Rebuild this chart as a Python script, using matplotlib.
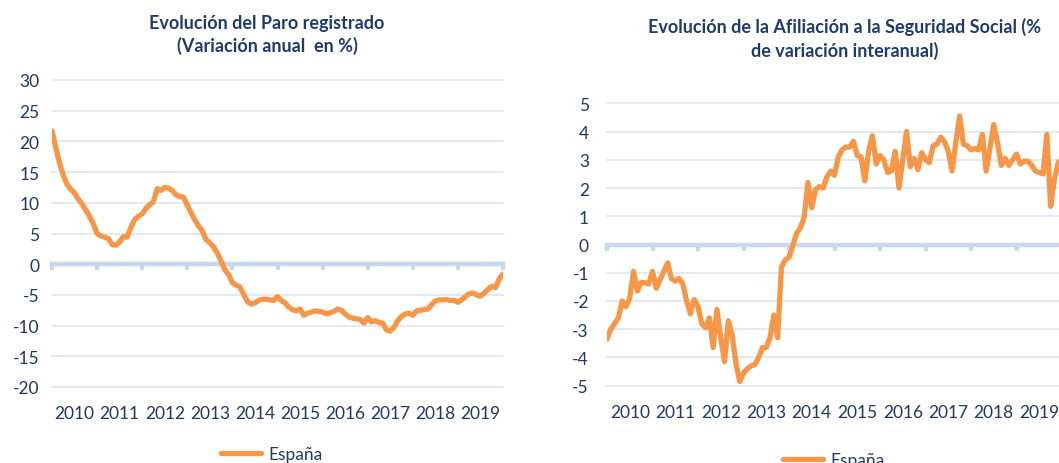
import matplotlib
matplotlib.use("Agg")
import matplotlib.pyplot as plt
from matplotlib.lines import Line2D

plt.rcParams['font.family'] = ['Lato', 'DejaVu Sans']
plt.rcParams['axes.unicode_minus'] = False

# ---------------- data ----------------
years = ['2010', '2011', '2012', '2013', '2014', '2015', '2016', '2017', '2018', '2019']

# Paro registrado, variación anual (%), monthly from Jan 2010
paro = [21.7, 19.0, 16.5, 14.5, 13.0, 12.2, 11.6, 10.6, 9.8, 8.8, 7.8, 6.6,
        5.0, 4.6, 4.4, 4.2, 3.2, 3.1, 3.6, 4.5, 4.4, 6.0, 7.3, 7.8,
        8.2, 9.1, 9.7, 10.2, 12.3, 12.0, 12.5, 12.4, 12.0, 11.3, 11.0, 10.9,
        9.6, 8.4, 7.2, 6.2, 5.4, 4.0, 3.5, 2.8, 1.8, 0.5, -0.9, -1.7,
        -3.0, -3.4, -3.7, -4.9, -6.1, -6.5, -6.3, -5.9, -5.7, -5.7, -5.8, -5.9,
        -5.3, -5.9, -6.3, -7.0, -7.4, -7.6, -7.3, -8.3, -8.0, -7.8, -7.6, -7.7,
        -7.8, -8.1, -7.9, -7.7, -7.3, -7.5, -8.1, -8.6, -8.8, -8.9, -9.0, -9.6,
        -8.7, -9.4, -9.2, -9.5, -9.6, -10.7, -10.9, -10.3, -9.2, -8.5, -8.1, -8.0,
        -8.3, -7.6, -7.5, -7.4, -7.3, -6.6, -6.0, -5.8, -5.8, -5.8, -5.9, -5.9,
        -6.2, -5.8, -5.3, -4.8, -4.7, -5.0, -5.2, -4.7, -4.1, -3.6, -3.8, -2.4,
        -1.6]

# Afiliación a la Seguridad Social, variación interanual (%), monthly from Jan 2010
afiliacion = [-3.35, -3.0, -2.8, -2.6, -2.0, -2.2, -1.9, -0.95, -1.65, -1.35, -1.35, -1.4,
              -0.95, -1.55, -1.25, -0.95, -0.65, -1.2, -1.3, -1.2, -1.4, -2.0, -2.45, -1.95,
              -2.2, -2.8, -2.95, -2.6, -3.65, -2.3, -3.3, -4.15, -2.7, -3.2, -4.2, -4.85,
              -4.55, -4.4, -4.3, -4.25, -4.0, -3.65, -3.65, -3.3, -2.5, -3.3, -0.8, -0.55,
              -0.45, -0.05, 0.4, 0.6, 0.95, 2.2, 1.3, 1.95, 2.05, 2.0, 2.4, 2.6,
              2.45, 3.1, 3.35, 3.45, 3.45, 3.65, 3.15, 3.1, 2.25, 3.3, 3.85, 2.85,
              3.15, 3.0, 2.55, 2.6, 3.3, 2.0, 3.0, 4.0, 2.75, 3.05, 2.65, 3.25,
              3.0, 2.9, 3.5, 3.55, 3.8, 3.65, 3.3, 2.6, 3.6, 4.55, 3.55, 3.5,
              3.35, 3.4, 3.35, 3.9, 2.6, 3.4, 4.25, 3.6, 2.8, 3.05, 2.8, 3.0,
              3.2, 2.85, 2.95, 2.95, 2.8, 2.6, 2.55, 2.5, 3.9, 1.35, 2.3, 2.9,
              3.0]

paro_yticks = [-20, -15, -10, -5, 0, 5, 10, 15, 20, 25, 30]
afil_yticks = [-5, -4, -3, -2, -1, 0, 1, 2, 3, 4, 5]

title_left = "Evolución del Paro registrado\n(Variación anual  en %)"
title_right = "Evolución de la Afiliación a la Seguridad Social (%\nde variación interanual)"
legend_label = "España"

# ---------------- style ----------------
ORANGE = '#f79646'
NAVY = '#1f3864'
TITLE = '#1f3b6e'
GRID = '#d9e3f0'
ZERO = '#c6d8ef'
FS = 12.5
TFS = 13

W, H = 1059, 464
fig = plt.figure(figsize=(W / 100, H / 100), dpi=100)


def px(x0, y0, x1, y1):
    return [x0 / W, 1 - y1 / H, (x1 - x0) / W, (y1 - y0) / H]


def style(ax, data, yticks, ypad):
    n = len(data) - 1
    ax.set_xlim(0, n)
    ax.set_ylim(yticks[0], yticks[-1])
    for s in ('top', 'right', 'left'):
        ax.spines[s].set_visible(False)
    for y in yticks:
        if y != 0:
            ax.axhline(y, color=GRID, lw=1.1, zorder=1, clip_on=False)
    # zero line as bottom spine with year tick marks
    ax.spines['bottom'].set_position(('data', 0))
    ax.spines['bottom'].set_color(ZERO)
    ax.spines['bottom'].set_linewidth(3.2)
    ax.spines['bottom'].set_zorder(2)
    ax.set_xticks(list(range(0, n + 1, 12)))
    ax.tick_params(axis='x', which='major', direction='out', length=4, width=3,
                   color=ZERO, labelbottom=False)
    ax.set_yticks(yticks)
    ax.set_yticklabels([str(v) for v in yticks])
    ax.tick_params(axis='y', length=0, pad=ypad, labelsize=FS, labelcolor=NAVY)
    # year labels centred in each yearly interval
    sec = ax.secondary_xaxis('bottom')
    sec.set_xticks([12 * i + 6 for i in range(len(years))])
    sec.set_xticklabels(years)
    sec.tick_params(length=0, pad=13, labelsize=FS, labelcolor=NAVY)
    sec.spines['bottom'].set_visible(False)
    ax.plot(range(len(data)), data, color=ORANGE, lw=3.8,
            solid_capstyle='round', solid_joinstyle='round', zorder=3)


ax1 = fig.add_axes(px(52, 81, 503, 388))
style(ax1, paro, paro_yticks, 9)

ax2 = fig.add_axes(px(607, 104.3, 1062, 386.7))
style(ax2, afiliacion, afil_yticks, 13)

fig.text(267 / W, 1 - 35 / H, title_left, ha='center', va='center',
         fontsize=TFS, fontweight='bold', color=TITLE, linespacing=1.35)
fig.text(845 / W, 1 - 39 / H, title_right, ha='center', va='center',
         fontsize=TFS, fontweight='bold', color=TITLE, linespacing=1.35)

handle = [Line2D([], [], color=ORANGE, lw=3.8, solid_capstyle='round')]
for ax, (cx, cy) in ((ax1, (272, 455)), (ax2, (834, 461))):
    ax.legend(handle, [legend_label], loc='center',
              bbox_to_anchor=(cx / W, 1 - cy / H), bbox_transform=fig.transFigure,
              frameon=False, handlelength=2.3, handletextpad=0.4,
              prop={'size': FS}, labelcolor=NAVY)

fig.savefig('out.png', dpi=100)
